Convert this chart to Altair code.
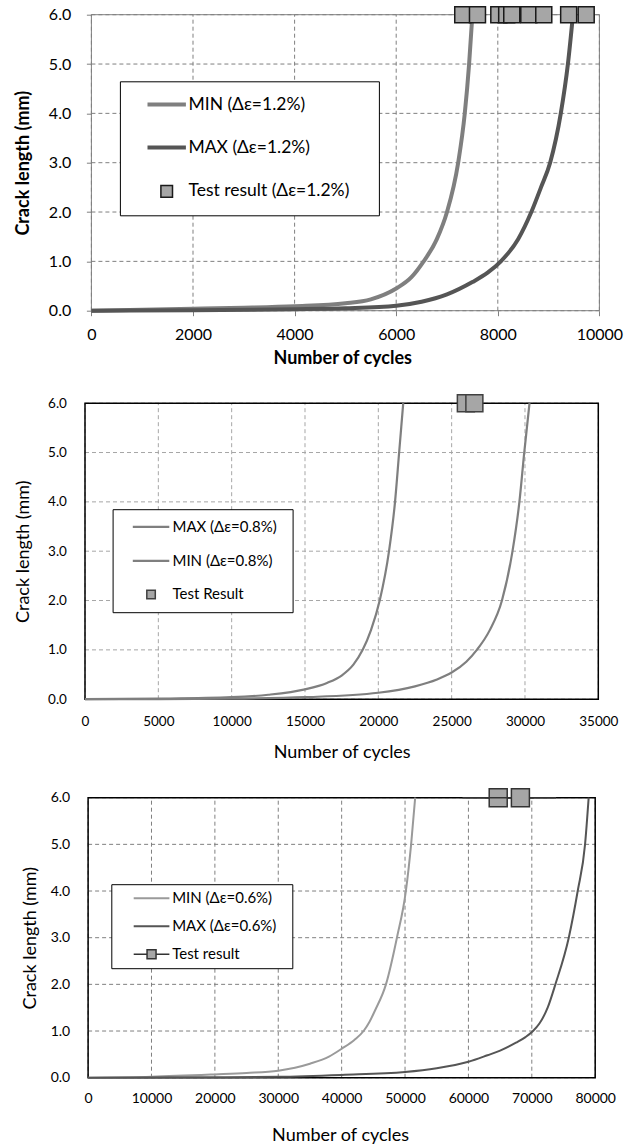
import altair as alt
import pandas as pd

FONT = "Lato"

# ---------------- Panel 1 : Δε = 1.2 % ----------------
P1_NAMES = ["MIN (Δε=1.2%)", "MAX (Δε=1.2%)", "Test result (Δε=1.2%)"]
P1_MIN_X = [0, 1000, 2000, 3000, 4000, 5000, 5500, 6000, 6300, 6540, 6800, 7000, 7220, 7350, 7435, 7500]
P1_MIN_Y = [0, 0.02, 0.04, 0.06, 0.09, 0.15, 0.23, 0.45, 0.68, 1.0, 1.45, 2.0, 3.0, 4.0, 5.0, 6.0]
P1_MAX_X = [0, 2000, 4000, 5000, 6000, 6500, 7000, 7500, 7800, 8060, 8400, 8660, 8850, 9030, 9240, 9380, 9480]
P1_MAX_Y = [0, 0.01, 0.03, 0.05, 0.1, 0.18, 0.33, 0.58, 0.77, 1.0, 1.45, 2.0, 2.5, 3.0, 4.0, 5.0, 6.0]
P1_TEST_X = [7310, 7600, 8020, 8175, 8275, 8610, 8905, 9395, 9740]
P1_X_TICKS = [0, 2000, 4000, 6000, 8000, 10000]

# ---------------- Panel 2 : Δε = 0.8 % ----------------
P2_NAMES = ["MAX (Δε=0.8%)", "MIN (Δε=0.8%)", "Test Result"]
P2_MIN_X = [0, 5000, 10000, 12500, 15000, 16500, 17500, 18300, 18935, 19500, 20095, 20730, 21140, 21420, 21700]
P2_MIN_Y = [0, 0.01, 0.04, 0.09, 0.2, 0.33, 0.48, 0.7, 1.0, 1.4, 2.0, 3.0, 4.0, 5.0, 6.0]
P2_MAX_X = [0, 5000, 10000, 15000, 20000, 22500, 24000, 25000, 26000, 26720, 27600, 28430, 29150, 29620, 29950, 30310]
P2_MAX_Y = [0, 0.0, 0.01, 0.04, 0.13, 0.26, 0.4, 0.54, 0.76, 1.0, 1.4, 2.0, 3.0, 4.0, 5.0, 6.0]
P2_TEST_X = [25970, 26550]
P2_X_TICKS = [0, 5000, 10000, 15000, 20000, 25000, 30000, 35000]

# ---------------- Panel 3 : Δε = 0.6 % ----------------
P3_NAMES = ["MIN (Δε=0.6%)", "MAX (Δε=0.6%)", "Test result"]
P3_MIN_X = [0, 10000, 20000, 25000, 30000, 35000, 38000, 40000, 42000, 43460, 44400, 45300, 46990, 48720, 50130, 50960, 51600]
P3_MIN_Y = [0, 0.02, 0.07, 0.1, 0.15, 0.3, 0.45, 0.62, 0.81, 1.0, 1.2, 1.45, 2.0, 3.0, 4.0, 5.0, 6.0]
P3_MAX_X = [0, 20000, 30000, 40000, 50000, 55000, 60000, 63000, 65000, 67500, 69000, 70190, 71200, 72500, 73720, 75830, 77240, 78400, 78970]
P3_MAX_Y = [0, 0.01, 0.02, 0.06, 0.12, 0.2, 0.34, 0.48, 0.58, 0.75, 0.87, 1.0, 1.16, 1.5, 2.0, 3.0, 4.0, 5.0, 6.0]
P3_TEST_X = [64700, 68200]
P3_X_TICKS = [0, 10000, 20000, 30000, 40000, 50000, 60000, 70000, 80000]

Y_TICKS = [0, 1, 2, 3, 4, 5, 6]
Y_MAX = 6
LEG_S = 14.0  # sqrt of legend symbol size


def line_path(length):
    k = length / LEG_S
    return f"M{-k:.3f},0H{k:.3f}"


def square_path(side, with_line=None):
    h = side / LEG_S
    p = f"M{-h:.3f},{-h:.3f}H{h:.3f}V{h:.3f}H{-h:.3f}Z"
    if with_line:
        k = with_line / LEG_S
        p = f"M{-k:.3f},0H{-h:.3f}M{h:.3f},0H{k:.3f}" + p
    return p


def pt_size(leg_side, plot_side):
    h = leg_side / LEG_S
    return (plot_side / h) ** 2


def make_legend(x, y, pad, rp, so, lo, fs, extra):
    return alt.Legend(
        title="\u00a0", titleOrient="right", titlePadding=extra, titleFontSize=1,
        orient="none", legendX=x, legendY=y, direction="vertical",
        strokeColor="black", fillColor="white", padding=pad, rowPadding=rp,
        symbolOffset=so, labelOffset=lo, labelFont=FONT, labelFontSize=fs,
        labelColor="black", symbolSize=LEG_S ** 2, labelLimit=400,
    )


def panel(names, curves, test_x, xticks, line_colors, line_w, test_fill, test_stroke, test_sw,
          shapes, psize, data_w, shift, height, frame_color, frame_w, grid_color,
          axis_x, axis_y, legend):
    xmax = xticks[-1]
    xmin = -shift * xmax / data_w
    rows = []
    for name, (xs, ys) in zip(names[:2], curves):
        for a, b in zip(xs, ys):
            rows.append({"cycles": a, "crack": b, "series": name})
    lines_df = pd.DataFrame(rows)
    test_df = pd.DataFrame({"cycles": test_x, "crack": [float(Y_MAX)] * len(test_x),
                            "series": [names[2]] * len(test_x)})
    frame_df = pd.DataFrame({"cycles": [0], "crack": [0], "cycles_end": [xmax], "crack_end": [Y_MAX]})
    hgrid_df = pd.DataFrame({"crack": Y_TICKS, "cycles": [0] * len(Y_TICKS), "cycles_end": [xmax] * len(Y_TICKS)})
    vgrid_df = pd.DataFrame({"cycles": xticks, "crack": [0] * len(xticks), "crack_end": [Y_MAX] * len(xticks)})

    xenc = alt.X("cycles:Q", scale=alt.Scale(domain=[xmin, xmax], nice=False, zero=False),
                 axis=alt.Axis(values=xticks, **axis_x))
    yenc = alt.Y("crack:Q", scale=alt.Scale(domain=[0, Y_MAX], nice=False),
                 axis=alt.Axis(values=Y_TICKS, offset=-shift, **axis_y))
    stroke = alt.Stroke("series:N", scale=alt.Scale(domain=names, range=line_colors + [test_stroke]), legend=legend)
    fill = alt.Fill("series:N", scale=alt.Scale(domain=names, range=line_colors + [test_fill]), legend=legend)
    shape = alt.Shape("series:N", scale=alt.Scale(domain=names, range=shapes), legend=legend)
    sw = alt.StrokeWidth("series:N", scale=alt.Scale(type="ordinal", domain=names, range=[line_w, line_w, test_sw]), legend=legend)

    hgrid = alt.Chart(hgrid_df).mark_rule(color=grid_color, strokeWidth=1, strokeDash=[4, 3]).encode(
        x=xenc, x2="cycles_end:Q", y=yenc)
    vgrid = alt.Chart(vgrid_df).mark_rule(color=grid_color, strokeWidth=1, strokeDash=[4, 3]).encode(
        x=xenc, y=yenc, y2="crack_end:Q")
    frame = alt.Chart(frame_df).mark_rect(fillOpacity=0, stroke=frame_color, strokeWidth=frame_w).encode(
        x=xenc, x2="cycles_end:Q", y=yenc, y2="crack_end:Q")
    lines = alt.Chart(lines_df).mark_line(interpolate="monotone", strokeWidth=line_w).encode(
        x=xenc, y=yenc, stroke=stroke)
    pts = alt.Chart(test_df).mark_point(opacity=1, size=psize).encode(
        x=xenc, y=yenc, stroke=stroke, fill=fill, shape=shape, strokeWidth=sw)
    return alt.layer(hgrid, vgrid, frame, lines, pts).properties(
        width=data_w + shift, height=height,
        view=alt.ViewBackground(stroke="transparent"))


def axis_common(fs, label_pad, ticks, tcolor, title, tfs, tweight, tpad, fmt):
    d = dict(title=title, format=fmt, labelFlush=False, labelOverlap=False,
             labelFont=FONT, labelFontSize=fs, labelColor="black", labelPadding=label_pad,
             grid=False, domain=False,
             titleFont=FONT, titleFontSize=tfs, titleFontWeight=tweight,
             titleColor="black", titlePadding=tpad)
    if ticks:
        d.update(ticks=True, tickSize=5, tickColor=tcolor)
    else:
        d.update(ticks=False, tickSize=0)
    return d


# ---- panel 1 ----
p1 = panel(
    P1_NAMES, [(P1_MIN_X, P1_MIN_Y), (P1_MAX_X, P1_MAX_Y)], P1_TEST_X, P1_X_TICKS,
    ["#7f7f7f", "#555555"], 4, "#a6a6a6", "#1a1a1a", 1.5,
    [line_path(38.4), line_path(38.4), square_path(11.6)], pt_size(11.6, 16),
    508, 6.4, 296, "#808080", 1, "#808080",
    axis_common(16, 11.3, True, "#808080", "Number of cycles", 18, "bold", 6.3, "d"),
    axis_common(16, 15.7, True, "#808080", "Crack length (mm)", 18, "bold", 16, ".1f"),
    make_legend(34.9, 66.6, 14.3, 25, 23.5, 12.8, 17.5, 14.8),
)

# ---- panel 2 ----
p2 = panel(
    P2_NAMES, [(P2_MAX_X, P2_MAX_Y), (P2_MIN_X, P2_MIN_Y)], P2_TEST_X, P2_X_TICKS,
    ["#7f7f7f", "#7f7f7f"], 2.2, "#a6a6a6", "#404040", 1.5,
    [line_path(36.5), line_path(36.5), square_path(8.5)], pt_size(8.5, 17),
    513.3, 0, 296, "black", 1.5, "#a6a6a6",
    axis_common(13.5, 15.5, False, "black", "Number of cycles", 18, "normal", 15.5, "d"),
    axis_common(13.5, 18.6, False, "black", "Crack length (mm)", 18, "normal", 15.5, ".1f"),
    make_legend(27.6, 106, 9.2, 17, 20.75, 12.95, 15, 6),
)

# ---- panel 3 ----
p3 = panel(
    P3_NAMES, [(P3_MIN_X, P3_MIN_Y), (P3_MAX_X, P3_MAX_Y)], P3_TEST_X, P3_X_TICKS,
    ["#9a9a9a", "#555555"], 2, "#a6a6a6", "#333333", 1.5,
    [line_path(35.7), line_path(35.7), square_path(9, with_line=35.7)], pt_size(9, 18),
    507.1, 3.1, 280, "black", 1.5, "#808080",
    axis_common(14, 14, False, "black", "Number of cycles", 18, "normal", 21, "d"),
    axis_common(14, 18.4, False, "black", "Crack length (mm)", 18, "normal", 10.4, ".1f"),
    make_legend(26.3, 86.5, 6, 12, 26.25, 12.65, 15, 10),
)

chart = alt.vconcat(p1, p2, p3, spacing=22.5).resolve_scale(
    x="independent", y="independent", stroke="independent", fill="independent",
    shape="independent", strokeWidth="independent",
).resolve_legend(
    stroke="independent", fill="independent", shape="independent", strokeWidth="independent",
).properties(
    padding={"left": 13, "top": 2.7, "right": 5, "bottom": 0},
    background="white",
)

chart.save("out.html", embed_options={"renderer": "svg", "actions": False})
